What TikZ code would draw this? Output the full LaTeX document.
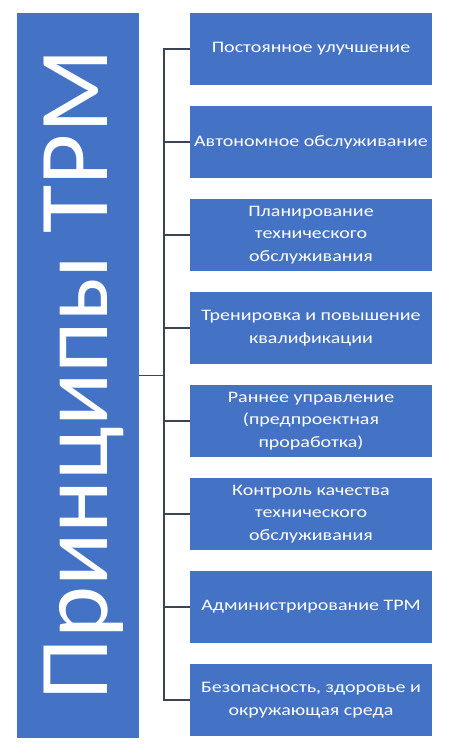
\documentclass[tikz,border=0pt]{standalone}
\usepackage{fontspec}
\setmainfont{Carlito}
\newfontfamily\boxfont[FakeStretch=1.25]{Carlito}
\definecolor{tpmblue}{HTML}{4472C4}
\definecolor{tpmline}{HTML}{3B4453}

\tikzset{
  principle/.style={rectangle,fill=tpmblue,text=white,align=center,
    minimum width=242pt,minimum height=72pt,inner sep=2pt,
    font=\boxfont\fontsize{16}{22.5}\selectfont},
  link/.style={draw=tpmline,line width=1.5pt}
}

\begin{document}
\begin{tikzpicture}[x=1pt,y=-1pt]
\useasboundingbox (0,0) rectangle (449,753);

\node[rectangle,fill=tpmblue,minimum width=122pt,minimum height=725pt,inner sep=0pt] (principles) at (78,375.5) {};
\node[rotate=90,anchor=base,text=white,inner sep=0pt,font=\fontsize{99}{99}\selectfont] (title) at (107,375) {Принципы ТРМ};

\node[principle] (improve) at (311,49) {Постоянное улучшение};
\node[principle] (autonomous) at (311,142) {Автономное обслуживание};
\node[principle] (planned) at (311,235) {Планирование\\технического\\обслуживания};
\node[principle] (training) at (311,328) {Тренировка и повышение\\квалификации};
\node[principle] (early) at (311,421) {Раннее управление\\(предпроектная\\проработка)};
\node[principle] (quality) at (311,514) {Контроль качества\\технического\\обслуживания};
\node[principle] (admin) at (311,607) {Администрирование ТРМ};
\node[principle] (safety) at (311,700) {Безопасность, здоровье и\\окружающая среда};

\coordinate (spine) at (164,0);

\draw[link] (principles.east) -- (spine |- principles.east);
\draw[link] (improve.west) -- (spine |- improve.west) -- (spine |- safety.west) -- (safety.west);
\foreach \branch in {autonomous,planned,training,early,quality,admin}
  \draw[link] (spine |- \branch.west) -- (\branch.west);
\end{tikzpicture}
\end{document}
